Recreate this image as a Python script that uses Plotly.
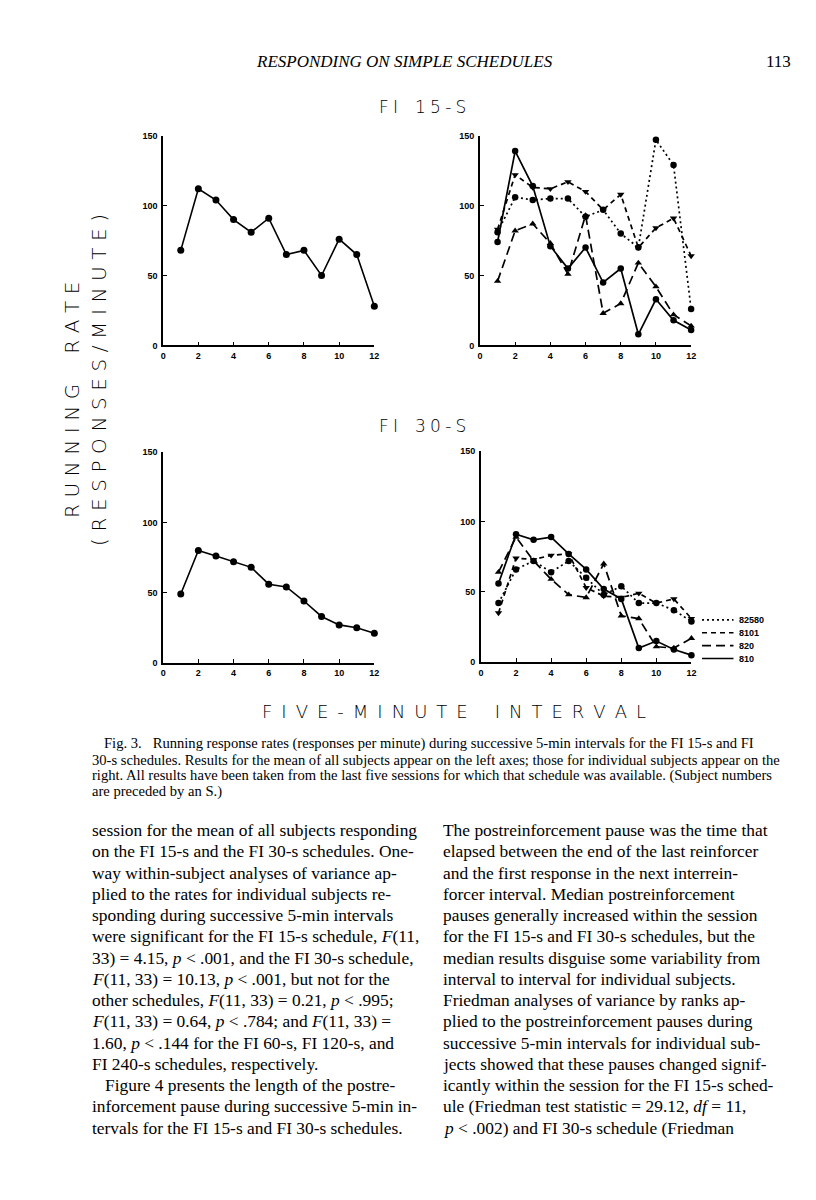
import plotly.graph_objects as go

# the page body has an 8px margin, so the figure is drawn 8px in
W, H = 816, 1200
PAD = 8
FW, FH = W - 2 * PAD, H - 2 * PAD

# five-minute intervals
intervals = list(range(1, 13))

# mean of all subjects (left panels)
fi15_mean = [68, 112, 104, 90, 81, 91, 65, 68, 50, 76, 65, 28]
fi30_mean = [49, 80, 76, 72, 68, 56, 54, 44, 33, 27, 25, 21]

# individual subjects (right panels)
subjects = ['82580', '8101', '820', '810']
fi15_s82580 = [81, 106, 104, 105, 105, 92, 97, 80, 70, 147, 129, 26]
fi15_s8101 = [83, 122, 113, 112, 117, 110, 97, 108, 70, 84, 91, 64]
fi15_s820 = [46, 82, 87, 73, 51, 93, 23, 30, 59, 42, 22, 14]
fi15_s810 = [74, 139, 114, 71, 55, 70, 45, 55, 8, 33, 18, 11]

fi30_s82580 = [42, 66, 72, 64, 72, 60, 48, 54, 42, 42, 37, 29]
fi30_s8101 = [35, 74, 73, 76, 77, 53, 47, 46, 49, 42, 45, 31]
fi30_s820 = [64, 89, 72, 59, 48, 46, 70, 33, 31, 11, 10, 17]
fi30_s810 = [56, 91, 87, 89, 77, 66, 52, 45, 10, 15, 9, 5]

x_ticks = [0, 2, 4, 6, 8, 10, 12]
y_ticks = [0, 50, 100, 150]

caption_lines = [
    'Fig. 3.   Running response rates (responses per minute) during successive 5-min intervals for the FI 15-s and FI',
    '30-s schedules. Results for the mean of all subjects appear on the left axes; those for individual subjects appear on the',
    'right. All results have been taken from the last five sessions for which that schedule was available. (Subject numbers',
    'are preceded by an S.)',
]

left_col = [
    'session for the mean of all subjects responding',
    'on the FI 15-s and the FI 30-s schedules. One-',
    'way within-subject analyses of variance ap-',
    'plied to the rates for individual subjects re-',
    'sponding during successive 5-min intervals',
    'were significant for the FI 15-s schedule, <i>F</i>(11,',
    '33) = 4.15, <i>p</i> &lt; .001, and the FI 30-s schedule,',
    '<i>F</i>(11, 33) = 10.13, <i>p</i> &lt; .001, but not for the',
    'other schedules, <i>F</i>(11, 33) = 0.21, <i>p</i> &lt; .995;',
    '<i>F</i>(11, 33) = 0.64, <i>p</i> &lt; .784; and <i>F</i>(11, 33) =',
    '1.60, <i>p</i> &lt; .144 for the FI 60-s, FI 120-s, and',
    'FI 240-s schedules, respectively.',
    '   Figure 4 presents the length of the postre-',
    'inforcement pause during successive 5-min in-',
    'tervals for the FI 15-s and FI 30-s schedules.',
]

right_col = [
    'The postreinforcement pause was the time that',
    'elapsed between the end of the last reinforcer',
    'and the first response in the next interrein-',
    'forcer interval. Median postreinforcement',
    'pauses generally increased within the session',
    'for the FI 15-s and FI 30-s schedules, but the',
    'median results disguise some variability from',
    'interval to interval for individual subjects.',
    'Friedman analyses of variance by ranks ap-',
    'plied to the postreinforcement pauses during',
    'successive 5-min intervals for individual sub-',
    'jects showed that these pauses changed signif-',
    'icantly within the session for the FI 15-s sched-',
    'ule (Friedman test statistic = 29.12, <i>df</i> = 11,',
    '<i>p</i> &lt; .002) and FI 30-s schedule (Friedman',
]

styles = {
    '82580': dict(dash='2px,3px', symbol='circle'),
    '8101': dict(dash='5px,4px', symbol='triangle-down'),
    '820': dict(dash='9px,5px', symbol='triangle-up'),
    '810': dict(dash='solid', symbol='circle'),
}


def fx(px):
    return (px - PAD) / FW


def fy(py):
    return 1 - (py - PAD) / FH


def spaced(text, gap='\u2009', word='\u2002\u2002'):
    return gap.join(text).replace(gap + ' ' + gap, word)


fig = go.Figure()

panels = [
    ('x', 'y', [fx(161.7), fx(375)], [fy(343.3), fy(131.7)]),
    ('x2', 'y2', [fx(481.7), fx(695)], [fy(343.3), fy(131.7)]),
    ('x3', 'y3', [fx(161.7), fx(375)], [fy(663.3), fy(451)]),
    ('x4', 'y4', [fx(482.7), fx(695.3)], [fy(662.7), fy(450)]),
]

tick_font = dict(family='Liberation Sans', size=9, color='black', weight='bold')
for i, (xa, ya, xd, yd) in enumerate(panels):
    n = '' if i == 0 else str(i + 1)
    fig.layout['xaxis' + n] = dict(
        domain=xd, range=[0, 12], anchor=ya, showline=True, linecolor='black',
        linewidth=1.6, showgrid=False, zeroline=False, tickvals=x_ticks,
        ticks='inside', ticklen=4, tickwidth=1.4, tickcolor='black',
        tickfont=tick_font, ticklabelstandoff=1)
    fig.layout['yaxis' + n] = dict(
        domain=yd, range=[0, 150], anchor=xa, showline=True, linecolor='black',
        linewidth=1.6, showgrid=False, zeroline=False, tickvals=y_ticks,
        ticks='inside', ticklen=4, tickwidth=1.4, tickcolor='black',
        tickfont=tick_font, ticklabelstandoff=2)

# mean panels
for vals, xa, ya in [(fi15_mean, 'x', 'y'), (fi30_mean, 'x3', 'y3')]:
    fig.add_trace(go.Scatter(
        x=intervals, y=vals, xaxis=xa, yaxis=ya, mode='lines+markers',
        line=dict(color='black', width=1.6),
        marker=dict(color='black', size=7), showlegend=False, cliponaxis=False))

# individual subject panels
fi15_sets = [fi15_s82580, fi15_s8101, fi15_s820, fi15_s810]
fi30_sets = [fi30_s82580, fi30_s8101, fi30_s820, fi30_s810]
for sets, xa, ya in [(fi15_sets, 'x2', 'y2'), (fi30_sets, 'x4', 'y4')]:
    for name, vals in zip(subjects, sets):
        st = styles[name]
        fig.add_trace(go.Scatter(
            x=intervals, y=vals, xaxis=xa, yaxis=ya, mode='lines', name=name,
            line=dict(color='black', width=1.7, dash=st['dash']),
            showlegend=False, cliponaxis=False))
        fig.add_trace(go.Scatter(
            x=intervals, y=vals, xaxis=xa, yaxis=ya, mode='markers',
            marker=dict(color='black', size=6.5, symbol=st['symbol']),
            showlegend=False, cliponaxis=False, hoverinfo='skip'))

# key for the subjects, drawn on its own small axis (rows 0..3)
fig.layout['xaxis5'] = dict(domain=[fx(706), fx(738)], range=[0, 1], anchor='y5', visible=False)
fig.layout['yaxis5'] = dict(domain=[fy(665.5), fy(613.5)], range=[3.5, -0.5], anchor='x5',
                            visible=False)
for row, name in enumerate(subjects):
    fig.add_trace(go.Scatter(
        x=[0, 1], y=[row, row], xaxis='x5', yaxis='y5', mode='lines',
        line=dict(color='black', width=1.7, dash=styles[name]['dash']),
        showlegend=False, hoverinfo='skip'))

ann = []
serif = 'Liberation Serif'
sans = 'DejaVu Sans'

for row, name in enumerate(subjects):
    ann.append(dict(x=1, y=row, xref='x5', yref='y5', xanchor='left', xshift=3, text=name,
                    font=dict(family='Liberation Sans', size=9, color='black', weight='bold')))

# running header
ann.append(dict(x=fx(405), y=fy(57), text='<i>RESPONDING ON SIMPLE SCHEDULES</i>',
                font=dict(family=serif, size=17, color='black')))
ann.append(dict(x=fx(783), y=fy(57), text='113',
                font=dict(family=serif, size=17, color='black')))

# figure titles
title_font = dict(family=sans, size=17, color='black', weight=200)
ann.append(dict(x=fx(424), y=fy(103), text=spaced('FI 15-S', '\u2005'), font=title_font))
ann.append(dict(x=fx(424), y=fy(425), text=spaced('FI 30-S', '\u2005'), font=title_font))
ann.append(dict(x=fx(455), y=fy(712),
                text=spaced('FIVE-MINUTE INTERVAL', '\u2002', '\u2003\u2002'),
                font=dict(family=sans, size=18, color='black', weight=200)))
ylab_font = dict(family=sans, size=20, color='black', weight=200)
ann.append(dict(x=fx(69), y=fy(398), text=spaced('RUNNING RATE', '\u2004', '\u2003\u2002'),
                textangle=-90, font=ylab_font))
ann.append(dict(x=fx(97), y=fy(378), text=spaced('(RESPONSES/MINUTE)', '\u2004'),
                textangle=-90, font=ylab_font))

# caption
for k, line in enumerate(caption_lines):
    ann.append(dict(x=fx(100 if k == 0 else 88), y=fy(745 + 16 * k), text=line,
                    xanchor='left', font=dict(family=serif, size=14.6, color='black')))

# body text
step = 300 / 14
body_font = dict(family=serif, size=17.4, color='black')
for k, line in enumerate(left_col):
    ann.append(dict(x=fx(88), y=fy(832 + step * k), text=line, xanchor='left', font=body_font))
for k, line in enumerate(right_col):
    ann.append(dict(x=fx(442), y=fy(832 + step * k), text=line, xanchor='left', font=body_font))

for a in ann:
    a.setdefault('xanchor', 'center')
    a.setdefault('xref', 'paper')
    a.setdefault('yref', 'paper')
    a.update(yanchor='middle', showarrow=False)

fig.update_layout(
    width=FW, height=FH, margin=dict(l=0, r=0, t=0, b=0),
    paper_bgcolor='white', plot_bgcolor='white',
    annotations=ann, showlegend=False,
)

fig.write_html('out.html')
